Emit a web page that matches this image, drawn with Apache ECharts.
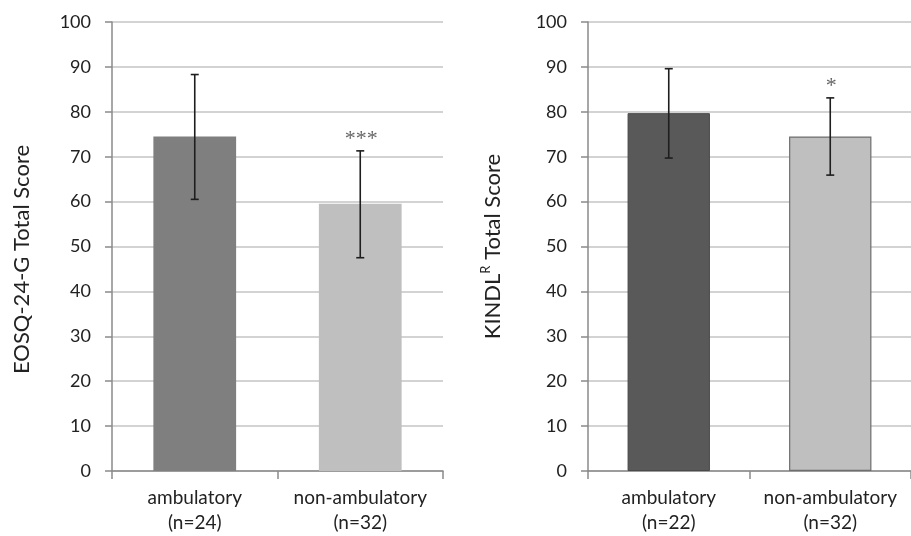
<!DOCTYPE html>
<html><head><meta charset="utf-8">
<script src="https://cdn.jsdelivr.net/npm/echarts@6/dist/echarts.min.js"></script>
<style>html,body{margin:0;padding:0;background:#fff}#c{width:911px;height:536px}</style>
</head><body><div id="c"></div>
<script>
const categories = ['ambulatory\n(n=24)', 'non-ambulatory\n(n=32)'];
const categoriesK = ['ambulatory\n(n=22)', 'non-ambulatory\n(n=32)'];
const eosqMeans = [74.5, 59.5];
const eosqLow = [60.5, 47.5];
const eosqHigh = [88.3, 71.3];
const eosqSig = ['', '***'];
const kindlMeans = [79.7, 74.5];
const kindlLow = [69.7, 65.9];
const kindlHigh = [89.6, 83.1];
const kindlSig = ['', '*'];
const yTicks = [0, 10, 20, 30, 40, 50, 60, 70, 80, 90, 100];

const FONT = 'Lato, "Liberation Sans", sans-serif';
const chart = echarts.init(document.getElementById('c'));

function yAxis(gi, name) {
  return {
    gridIndex: gi, type: 'value', min: yTicks[0], max: yTicks[yTicks.length - 1], interval: yTicks[1] - yTicks[0],
    name: name, nameLocation: 'middle', nameGap: gi === 0 ? 79 : 82, nameRotate: 90,
    nameTextStyle: { fontFamily: FONT, fontSize: 22, color: '#222', padding: gi === 0 ? [0, 26, 0, 0] : 0,
      rich: { sup: { fontSize: 13, fontFamily: FONT, color: '#222', verticalAlign: 'top', padding: [0,0,14,0] }, n: { fontFamily: FONT, fontSize: 22, color: '#222' } } },
    axisLine: { show: true, lineStyle: { color: '#8a8a8a', width: 1.5 } },
    axisTick: { show: true, length: 7, lineStyle: { color: '#8a8a8a', width: 1.5 } },
    axisLabel: { fontFamily: FONT, fontSize: 18, color: '#222', margin: 21 },
    splitLine: { show: true, lineStyle: { color: '#c4c4c4', width: 1.5 } }
  };
}
function xAxis(gi, cats) {
  return {
    gridIndex: gi, type: 'category', data: cats,
    axisLine: { lineStyle: { color: '#8a8a8a', width: 1.5 } },
    axisTick: { show: true, length: 8, lineStyle: { color: '#8a8a8a', width: 1.5 } },
    axisLabel: { interval: 0, hideOverlap: false, fontFamily: FONT, fontSize: 19, color: '#222', lineHeight: 25, margin: 14 }
  };
}
function errSeries(gi, low, high, sig) {
  return {
    type: 'custom', xAxisIndex: gi, yAxisIndex: gi, z: 10,
    data: low.map((l, i) => [i, l, high[i], sig[i]]),
    renderItem: function (params, api) {
      const x = api.coord([api.value(0), 0])[0];
      const yl = api.coord([api.value(0), api.value(1)])[1];
      const yh = api.coord([api.value(0), api.value(2)])[1];
      const s = sig[params.dataIndex];
      const st = { stroke: '#1e1e1e', lineWidth: 1.6 };
      const ch = [
        { type: 'line', shape: { x1: x, y1: yl, x2: x, y2: yh }, style: st },
        { type: 'line', shape: { x1: x - 4, y1: yl, x2: x + 4, y2: yl }, style: st },
        { type: 'line', shape: { x1: x - 4, y1: yh, x2: x + 4, y2: yh }, style: st }
      ];
      if (s) ch.push({ type: 'text', style: { text: s, x: x + 1, y: yh - 12, align: 'center', verticalAlign: 'middle', fontSize: 22, fontFamily: '"Liberation Serif", serif', fill: '#666' } });
      return { type: 'group', children: ch };
    }
  };
}

chart.setOption({
  animation: false,
  grid: [
    { left: 112, right: 468, top: 22, bottom: 65 },
    { left: 588, right: -5, top: 22, bottom: 65 }
  ],
  xAxis: [xAxis(0, categories), xAxis(1, categoriesK)],
  yAxis: [yAxis(0, 'EOSQ-24-G Total Score'), yAxis(1, '{n|KINDL}{sup|R}{n| Total Score}')],
  series: [
    { type: 'bar', xAxisIndex: 0, yAxisIndex: 0, barWidth: '50%',
      data: eosqMeans.map((v, i) => ({ value: v, itemStyle: { color: i === 0 ? '#7f7f7f' : '#bfbfbf' } })) },
    errSeries(0, eosqLow, eosqHigh, eosqSig),
    { type: 'bar', xAxisIndex: 1, yAxisIndex: 1, barWidth: '51%',
      data: kindlMeans.map((v, i) => ({ value: v, itemStyle: i === 0 ? { color: '#595959', borderColor: '#4a4a4a', borderWidth: 1 } : { color: '#bfbfbf', borderColor: '#6e6e6e', borderWidth: 1.2 } })) },
    errSeries(1, kindlLow, kindlHigh, kindlSig)
  ]
});
</script></body></html>
